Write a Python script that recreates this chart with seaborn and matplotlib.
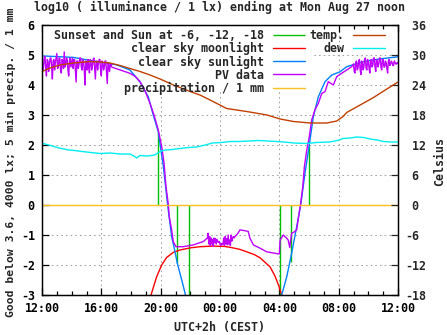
import numpy as np
import pandas as pd
import matplotlib
matplotlib.use("Agg")
import matplotlib.pyplot as plt
import seaborn as sns
from matplotlib.patches import Rectangle

# ---------------- data (time in hours after 12:00 of the previous day) ----------------
hour_ticks = [0, 4, 8, 12, 16, 20, 24]
hour_labels = ["12:00", "16:00", "20:00", "00:00", "04:00", "08:00", "12:00"]
lux_ticks = [-3, -2, -1, 0, 1, 2, 3, 4, 5, 6]
lux_labels = ["-3", "-2", "-1", " 0", " 1", " 2", " 3", " 4", " 5", " 6"]
temp_ticks = [-18, -12, -6, 0, 6, 12, 18, 24, 30, 36]
temp_labels = ["-18", "-12", "-6", " 0", " 6", " 12", " 18", " 24", " 30", " 36"]

# sunset / sun at -6, -12, -18 (evening and morning) and the curve value where each mark ends
sun_t = [7.82, 8.45, 9.12, 9.88, 16.05, 16.81, 17.44, 18.02]
sun_h = [2.44, 0.0, -1.94, -3.5, -3.5, -1.9, 0.0, 2.0]

# clear sky moonlight
moon_t = [7.2, 7.35, 7.73, 8.07, 8.4, 8.85, 9.3, 9.98, 10.65, 11.55, 12.3, 12.68,
          13.35, 13.8, 14.3, 14.7, 15.37, 15.7, 15.93, 16.16, 16.3]
moon_v = [-3.4, -3.0, -2.39, -2.0, -1.75, -1.58, -1.5, -1.43, -1.39, -1.37, -1.38, -1.41,
          -1.48, -1.56, -1.65, -1.76, -2.06, -2.36, -2.65, -3.0, -3.4]

# clear sky sunlight
sky_t = [0.0, 2.11, 3.46, 5.04, 5.93, 6.61, 7.17, 7.5, 7.84, 8.18, 8.47, 8.74, 8.97,
         9.12, 9.42, 9.64, 9.8, 15.95, 16.16, 16.5, 16.83, 17.17, 17.44, 17.73, 18.02,
         18.29, 18.63, 19.08, 19.53, 20.09, 20.54, 21.66, 22.79, 24.0]
sky_v = [4.97, 4.92, 4.8, 4.67, 4.5, 4.1, 3.6, 3.0, 2.44, 1.28, 0.0, -1.06, -1.56,
         -1.94, -2.5, -2.93, -3.4, -3.4, -3.0, -2.39, -1.61, -0.72, 0.0, 1.06, 2.0,
         2.94, 3.61, 4.11, 4.33, 4.44, 4.61, 4.78, 4.87, 4.94]

# PV data
pv_t_day = [0.0, 0.05, 0.1, 0.15, 0.2, 0.25, 0.3, 0.35, 0.4, 0.45, 0.5, 0.55, 0.6, 0.65,
            0.7, 0.75, 0.8, 0.85, 0.9, 0.95, 1.0, 1.05, 1.1, 1.15, 1.2, 1.25, 1.3, 1.35,
            1.4, 1.45, 1.5, 1.55, 1.6, 1.65, 1.7, 1.75, 1.8, 1.85, 1.9, 1.95, 2.0, 2.05,
            2.1, 2.15, 2.2, 2.25, 2.3, 2.35, 2.4, 2.45, 2.5, 2.55, 2.6, 2.65, 2.7, 2.75,
            2.8, 2.85, 2.9, 2.95, 3.0, 3.05, 3.1, 3.15, 3.2, 3.25, 3.3, 3.35, 3.4, 3.45,
            3.5, 3.55, 3.6, 3.65, 3.7, 3.75, 3.8, 3.85, 3.9, 3.95, 4.0, 4.05, 4.1, 4.15,
            4.2, 4.25, 4.3, 4.35, 4.4, 4.45, 4.5, 4.55, 4.6, 4.65, 4.7]
pv_v_day = [4.85, 4.5, 4.6, 4.9, 4.95, 4.55, 4.3, 4.85, 4.8, 4.45, 4.7, 4.9, 4.9, 4.6,
            4.2, 4.8, 4.85, 4.5, 4.75, 4.9, 5.05, 4.55, 4.6, 4.9, 4.9, 4.5, 4.4, 4.85,
            4.8, 4.55, 5.1, 4.6, 4.7, 4.9, 4.85, 4.5, 4.3, 4.8, 4.9, 4.6, 4.75, 4.9,
            4.55, 4.85, 4.85, 4.5, 4.1, 4.8, 4.8, 4.55, 4.7, 4.9, 4.9, 4.6, 4.5, 4.85,
            4.8, 4.5, 4.0, 4.8, 4.75, 4.5, 4.85, 4.6, 4.4, 4.85, 4.8, 4.5, 4.65, 4.85,
            4.9, 4.55, 4.2, 4.8, 4.8, 4.5, 4.7, 4.85, 4.85, 4.5, 4.3, 4.8, 4.75, 4.5,
            4.6, 4.8, 4.8, 4.45, 4.05, 4.75, 4.7, 4.45, 4.65, 4.7, 4.6]
pv_t_dusk = [4.8, 4.92, 5.4, 5.93, 6.3, 6.61, 6.95, 7.28, 7.55, 7.84, 8.07, 8.23, 8.36,
             8.52, 8.58, 8.74, 8.85, 9.03, 9.52, 10.2, 10.87, 11.15]
pv_v_dusk = [4.58, 4.56, 4.48, 4.39, 4.28, 4.11, 3.8, 3.39, 3.0, 2.5, 1.94, 1.39, 0.61,
             0.0, -0.39, -0.83, -1.22, -1.39, -1.39, -1.33, -1.22, -1.1]
pv_t_night = [11.2, 11.25, 11.3, 11.35, 11.4, 11.45, 11.5, 11.55, 11.6, 11.65, 11.7, 11.75,
              11.8, 11.85, 11.9, 11.95, 12.0, 12.05, 12.1, 12.15, 12.2, 12.25, 12.3, 12.35,
              12.4, 12.45, 12.5, 12.55, 12.6, 12.65, 12.7, 12.75, 12.8, 12.85, 12.9, 12.95, 13.0]
pv_v_night = [-0.94, -1.3, -1.05, -1.35, -1.1, -1.3, -1.15, -1.38, -1.1, -1.25, -1.12, -1.3,
              -1.15, -1.2, -1.25, -1.22, -1.3, -1.35, -1.28, -1.32, -1.3, -1.1, -1.35, -1.05,
              -1.3, -1.12, -1.33, -1.0, -1.3, -1.17, -1.35, -1.0, -1.2, -1.1, -1.05, -1.1, -1.06]
pv_t_dawn = [13.2, 13.35, 13.6, 13.9, 14.02, 14.25, 14.7, 15.15, 15.6, 15.93, 16.0, 16.05,
             16.27, 16.5, 16.6, 16.7, 16.83, 17.0, 17.17, 17.28, 17.44, 17.58, 17.69, 17.85,
             18.02, 18.18, 18.4, 18.63, 18.86, 19.08, 19.3, 19.64, 19.87, 20.2, 20.54, 20.88]
pv_v_dawn = [-0.95, -0.83, -0.85, -0.88, -1.11, -1.33, -1.44, -1.56, -1.6, -1.63, -1.63, -1.17,
             -1.0, -1.11, -1.17, -1.42, -0.94, -0.9, -0.83, -0.45, 0.06, 0.61, 1.28, 1.83,
             2.28, 2.83, 3.17, 3.39, 3.72, 3.78, 4.11, 4.0, 4.28, 4.39, 4.5, 4.61]
pv_t_morning = [21.0, 21.05, 21.1, 21.15, 21.2, 21.25, 21.3, 21.35, 21.4, 21.45, 21.5, 21.55,
                21.6, 21.65, 21.7, 21.75, 21.8, 21.85, 21.9, 21.95, 22.0, 22.05, 22.1, 22.15,
                22.2, 22.25, 22.3, 22.35, 22.4, 22.45, 22.5, 22.55, 22.6, 22.65, 22.7, 22.75,
                22.8, 22.85, 22.9, 22.95, 23.0, 23.05, 23.1, 23.15, 23.2, 23.25, 23.3, 23.35,
                23.4, 23.45, 23.5, 23.55, 23.6, 23.65, 23.7, 23.75, 23.8, 23.85, 23.9, 23.95, 24.0]
pv_v_morning = [4.7, 4.45, 4.4, 4.75, 4.8, 4.5, 4.55, 4.8, 4.85, 4.5, 4.35, 4.8,
                4.75, 4.5, 4.6, 4.85, 4.9, 4.55, 4.5, 4.85, 4.8, 4.55, 4.4, 4.8,
                4.85, 4.6, 4.65, 4.9, 4.9, 4.6, 4.45, 4.85, 4.8, 4.6, 4.7, 4.9,
                4.9, 4.6, 4.5, 4.85, 4.85, 4.6, 4.6, 4.8, 4.75, 4.55, 4.4, 4.8,
                4.85, 4.65, 4.7, 4.8, 4.75, 4.65, 4.65, 4.8, 4.75, 4.7, 4.7, 4.75, 4.72]

# precipitation / 1 mm
precip_t = [0.0, 24.0]
precip_v = [0.0, 0.0]

# temperature and dew point (Celsius)
temp_t = [0.0, 0.54, 1.21, 2.11, 3.24, 3.91, 4.58, 5.26, 5.93, 6.61, 7.28, 7.96, 8.86,
          9.98, 10.65, 11.33, 12.45, 13.8, 15.17, 16.05, 16.95, 18.07, 19.2, 19.87, 20.3,
          20.54, 21.45, 22.35, 23.25, 24.0]
temp_c = [26.7, 27.4, 28.0, 28.4, 28.7, 28.6, 28.4, 27.9, 27.3, 26.7, 26.0, 25.2, 24.0,
          22.7, 22.0, 21.0, 19.3, 18.7, 18.0, 17.2, 16.7, 16.4, 16.4, 16.8, 17.7,
          18.5, 20.0, 21.5, 23.2, 24.6]
dew_t = [0.0, 0.2, 0.45, 0.7, 0.9, 1.3, 1.8, 2.2, 2.7, 3.3, 3.91, 4.6, 5.26, 5.93, 6.2, 6.38,
         6.6, 7.1, 7.6, 7.96, 8.3, 8.8, 9.3, 9.9, 10.4, 11.0, 11.5, 12.1, 12.68, 13.3, 14.0,
         14.6, 15.17, 15.8, 16.3, 17.0, 17.8, 18.5, 19.4, 19.9, 20.3, 20.8, 21.2, 21.7,
         22.1, 22.6, 23.0, 23.5, 24.0]
dew_c = [12.4, 12.2, 12.0, 11.8, 11.6, 11.3, 11.0, 10.9, 10.7, 10.5, 10.3, 10.4, 10.2, 10.2,
         9.8, 9.4, 9.9, 9.8, 10.0, 10.7, 11.0, 11.1, 11.3, 11.5, 11.6, 12.0, 12.4, 12.5,
         12.7, 12.7, 12.8, 12.9, 12.8, 12.7, 12.6, 12.4, 12.3, 12.5, 12.6, 12.9, 13.3,
         13.4, 13.6, 13.5, 13.2, 13.0, 12.7, 12.6, 12.6]

pv_t = pv_t_day + pv_t_dusk + pv_t_night + pv_t_dawn + pv_t_morning
pv_v = pv_v_day + pv_v_dusk + pv_v_night + pv_v_dawn + pv_v_morning

# ---------------- style ----------------
sns.set_style("white")
plt.rcParams["font.family"] = ["DejaVu Sans Mono"]
plt.rcParams["font.weight"] = "bold"
plt.rcParams["font.size"] = 8.4
plt.rcParams["axes.unicode_minus"] = False

C_GREEN = "#00c000"
C_RED = "#ff0000"
C_BLUE = "#0080ff"
C_PURPLE = "#c000ff"
C_ORANGE = "#ffc020"
C_BROWN = "#c04000"
C_CYAN = "#00eeee"
LW = 1.0

fig = plt.figure(figsize=(4.47, 3.35), dpi=100)
ax = fig.add_axes([42 / 447, 40 / 335, 356 / 447, 270 / 335])
ax.set_facecolor("white")

# grid, hidden where the key sits
ax.set_axisbelow(True)
ax.grid(True, which="major", color="#a0a0a0", linestyle=(0, (1.5, 3)), linewidth=0.75)
ax.add_patch(Rectangle((0, 4.5), 18.2, 1.6, facecolor="white", edgecolor="none", zorder=1))
ax.add_patch(Rectangle((0, 3.8), 19.8, 0.7, facecolor="white", edgecolor="none", zorder=1))

h_sun = ax.vlines(sun_t, 0, sun_h, colors=C_GREEN, linewidth=LW, zorder=2)

sns.lineplot(x=moon_t, y=moon_v, ax=ax, color=C_RED, lw=LW, estimator=None, sort=False, legend=False)
h_moon = ax.lines[-1]
sns.lineplot(x=sky_t, y=sky_v, ax=ax, color=C_BLUE, lw=LW, estimator=None, sort=False, legend=False)
h_sky = ax.lines[-1]
sns.lineplot(x=pv_t, y=pv_v, ax=ax, color=C_PURPLE, lw=LW, estimator=None, sort=False, legend=False)
h_pv = ax.lines[-1]
sns.lineplot(x=precip_t, y=precip_v, ax=ax, color=C_ORANGE, lw=LW, estimator=None, sort=False, legend=False)
h_pre = ax.lines[-1]

ax.set_xlim(0, 24)
ax.set_ylim(-3, 6)
ax.set_xticks(hour_ticks, hour_labels)
ax.set_xticks(np.arange(0, 25, 1), minor=True)
ax.set_yticks(lux_ticks, lux_labels)
ax.xaxis.set_ticks_position("both")
ax.tick_params(axis="both", which="both", direction="in", colors="black", width=0.9)
ax.tick_params(axis="both", which="major", length=5)
ax.tick_params(axis="x", which="minor", length=3)
ax.tick_params(axis="x", which="major", pad=5)
ax.tick_params(axis="y", which="major", pad=5)
for s in ax.spines.values():
    s.set_color("black")
    s.set_linewidth(0.9)

ax.set_xlabel("UTC+2h (CEST)", fontweight="bold")
ax.xaxis.set_label_coords(0.5, -0.095)
ax.set_ylabel("Good below 3.6, 4000 lx; 5 min precip. / 1 mm", fontweight="bold", fontsize=8.2)
ax.yaxis.set_label_coords(-0.0736, 0.493)
ax.text(0.5, 1.065, "log10 ( illuminance / 1 lx) ending at Mon Aug 27 noon",
        transform=ax.transAxes, ha="center", va="center", fontweight="bold")

# temperature axis
ax2 = ax.twinx()
sns.lineplot(x=temp_t, y=temp_c, ax=ax2, color=C_BROWN, lw=LW, estimator=None, sort=False, legend=False)
h_temp = ax2.lines[-1]
sns.lineplot(x=dew_t, y=dew_c, ax=ax2, color=C_CYAN, lw=LW, estimator=None, sort=False, legend=False)
h_dew = ax2.lines[-1]
ax2.set_ylim(-18, 36)
ax2.set_yticks(temp_ticks, temp_labels)
for lab in ax2.get_yticklabels():
    lab.set_horizontalalignment("left")
ax2.tick_params(axis="y", which="both", direction="in", length=5, width=0.9, pad=5)
ax2.set_ylabel("Celsius", fontweight="bold")
ax2.yaxis.set_label_coords(1.0975, 0.493)
for s in ax2.spines.values():
    s.set_linewidth(0.9)
    s.set_color("black")

leg_kw = dict(loc="upper right", markerfirst=False, frameon=False, handlelength=2.74,
              handletextpad=0.75, labelspacing=0.0, borderpad=0, borderaxespad=0,
              prop={"family": "DejaVu Sans Mono", "weight": "bold", "size": 8.4})
leg1 = ax2.legend([h_sun, h_moon, h_sky, h_pv, h_pre],
                  ["Sunset and Sun at -6, -12, -18", "clear sky moonlight",
                   "clear sky sunlight", "PV data", "precipitation / 1 mm"],
                  bbox_to_anchor=(0.7388, 0.984), **leg_kw)
ax2.add_artist(leg1)
leg2 = ax2.legend([h_temp, h_dew], ["temp.", "dew"],
                  bbox_to_anchor=(0.9635, 0.984), **leg_kw)

fig.savefig("out.png", dpi=100)
